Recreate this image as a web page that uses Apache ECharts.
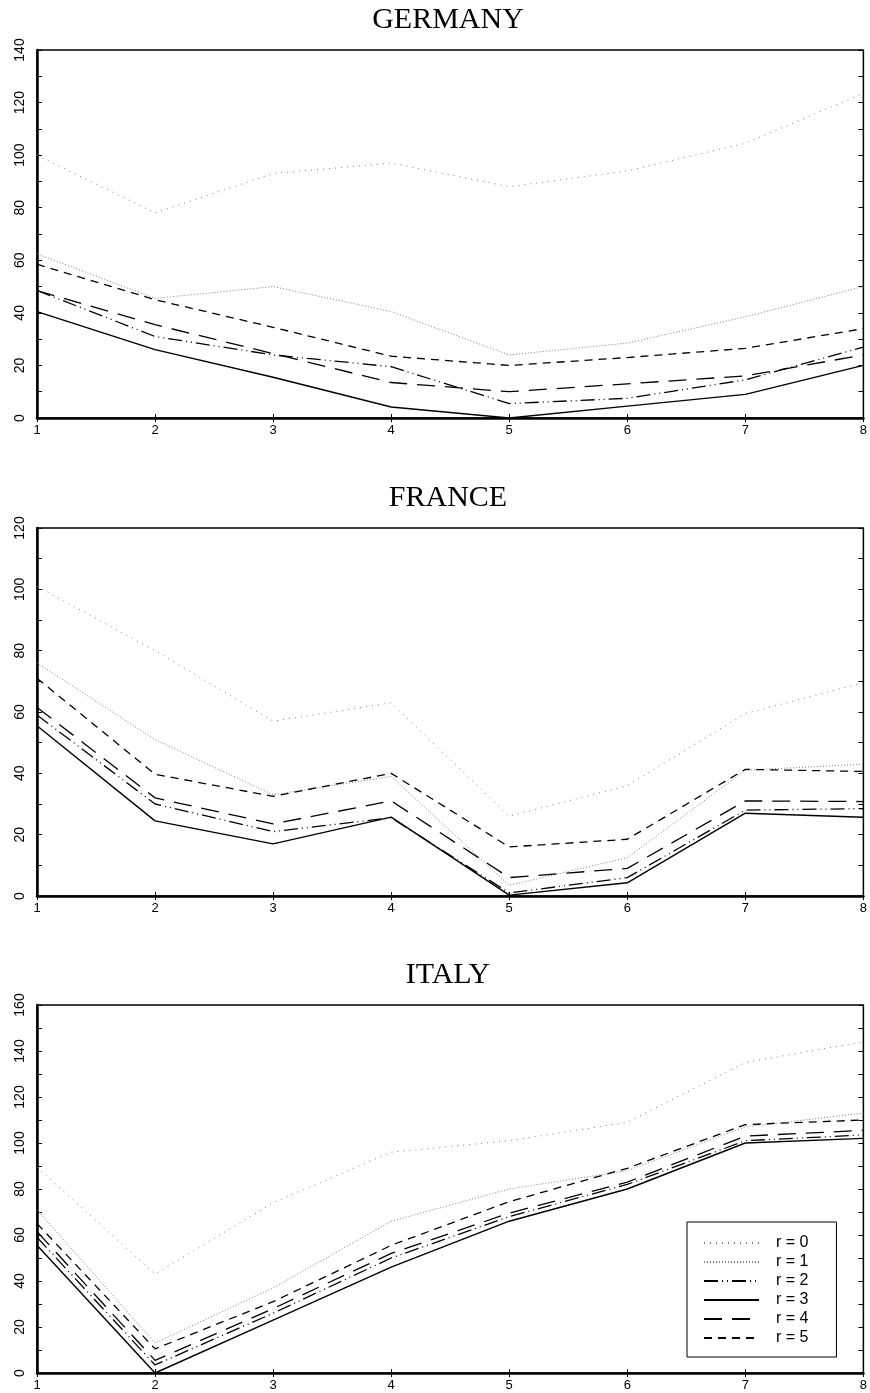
<!DOCTYPE html>
<html>
<head>
<meta charset="utf-8">
<script src="https://cdn.jsdelivr.net/npm/echarts@6/dist/echarts.min.js"></script>
<style>
  html, body { margin: 0; padding: 0; background: #fff; }
  #chart { width: 870px; height: 1393px; }
</style>
</head>
<body>
<div id="chart"></div>
<script>
const xValues = [1, 2, 3, 4, 5, 6, 7, 8];
const seriesNames = ['r = 0', 'r = 1', 'r = 2', 'r = 3', 'r = 4', 'r = 5'];
const panelTitles = ['GERMANY', 'FRANCE', 'ITALY'];
const yMaxes = [140, 120, 160];

// Germany
const deR0 = [100, 78, 93, 97, 88, 94, 104.5, 123.5];
const deR1 = [62.5, 45.5, 50, 40.5, 24, 28.5, 38.5, 50];
const deR2 = [48.5, 31, 24, 19.5, 5.5, 7.5, 14.5, 27];
const deR3 = [40.5, 26, 15.5, 4.2, 0, 4.5, 9, 20];
const deR4 = [48.5, 35.5, 24.5, 13.5, 10, 13, 16, 24];
const deR5 = [58.5, 45, 34.5, 23.5, 20, 23, 26.5, 34];

// France
const frR0 = [101, 80, 57, 63, 26, 36, 59.5, 69.5];
const frR1 = [76, 51, 33, 39, 3.5, 12.5, 41, 43];
const frR2 = [59, 30, 21, 25.5, 1, 6, 28, 28.5];
const frR3 = [55.5, 24.5, 17, 25.7, 0.3, 4.3, 27, 25.7];
const frR4 = [61.5, 32, 23.5, 31, 6, 9, 31, 30.8];
const frR5 = [71, 39.7, 32.5, 40, 16, 18.5, 41.3, 40.6];

// Italy
const itR0 = [89.5, 43, 74, 96, 101, 109, 135, 144];
const itR1 = [71, 13, 37, 66, 80, 88, 107, 113];
const itR2 = [59, 3.5, 26, 50, 68, 82, 101, 103.5];
const itR3 = [55.5, 0, 23, 46, 66, 80, 100, 102];
const itR4 = [61.5, 5.5, 28, 52, 69.5, 83, 103, 105.5];
const itR5 = [65, 10.5, 31, 55.5, 74.5, 89, 108, 110];

const panels = [
  [deR0, deR1, deR2, deR3, deR4, deR5],
  [frR0, frR1, frR2, frR3, frR4, frR5],
  [itR0, itR1, itR2, itR3, itR4, itR5]
];

// line looks for r = 0 ... 5
const lineLooks = [
  { color: '#808080', width: 1, type: [1, 5] },
  { color: '#808080', width: 1, type: [1, 2] },
  { color: '#000', width: 1.3, type: [14, 4, 1, 4, 1, 4] },
  { color: '#000', width: 1.4, type: 'solid' },
  { color: '#000', width: 1.3, type: [18, 10] },
  { color: '#000', width: 1.3, type: [8, 6] }
];

const gridTops = [50, 528, 1005];
const titleTops = [0, 478, 955];
const labelFont = 'Liberation Sans';
const tickFont = '"Liberation Sans Narrow", "Liberation Sans"';

let grid = [], xAxis = [], yAxis = [], title = [], series = [];

panels.forEach((rows, p) => {
  grid.push({
    left: 37, right: 5, top: gridTops[p], height: 368,
    show: true, borderColor: '#000', borderWidth: 1.5
  });
  title.push({
    text: panelTitles[p], left: 443, top: titleTops[p], textAlign: 'center',
    textStyle: { fontFamily: 'Liberation Serif', fontSize: 30, fontWeight: 'normal', color: '#000' }
  });
  // bottom + top x axes
  xAxis.push({
    type: 'value', gridIndex: p, min: 1, max: 8, interval: 1, position: 'bottom',
    axisLine: { show: true, lineStyle: { color: '#000', width: 2.5 } },
    axisTick: { inside: true, length: 4, lineStyle: { color: '#000' } },
    axisLabel: { color: '#000', fontSize: 13, fontFamily: labelFont, margin: 6 },
    splitLine: { show: false }
  });
  xAxis.push({
    type: 'value', gridIndex: p, min: 1, max: 8, interval: 1, position: 'top',
    axisLine: { show: false },
    axisTick: { inside: true, length: 4, lineStyle: { color: '#000' } },
    axisLabel: { show: false },
    splitLine: { show: false }
  });
  // left + right y axes
  yAxis.push({
    type: 'value', gridIndex: p, min: 0, max: yMaxes[p], interval: 10, position: 'left',
    axisLine: { show: true, lineStyle: { color: '#000', width: 2.5 } },
    axisTick: { inside: true, length: 5, lineStyle: { color: '#000' } },
    axisLabel: {
      color: '#000', fontSize: 14, fontFamily: tickFont, rotate: 90, margin: 10,
      formatter: v => (v % 20 === 0 ? String(v) : '')
    },
    splitLine: { show: false }
  });
  yAxis.push({
    type: 'value', gridIndex: p, min: 0, max: yMaxes[p], interval: 10, position: 'right',
    axisLine: { show: false },
    axisTick: { inside: true, length: 5, lineStyle: { color: '#000' } },
    axisLabel: { show: false },
    splitLine: { show: false }
  });
  rows.forEach((vals, i) => {
    series.push({
      name: seriesNames[i],
      type: 'line',
      xAxisIndex: p * 2,
      yAxisIndex: p * 2,
      symbol: 'none',
      silent: true,
      animation: false,
      lineStyle: lineLooks[i],
      itemStyle: { color: lineLooks[i].color },
      data: xValues.map((x, k) => [x, vals[k]])
    });
  });
});

const option = {
  backgroundColor: '#fff',
  animation: false,
  title: title,
  grid: grid,
  xAxis: xAxis,
  yAxis: yAxis,
  legend: {
    data: seriesNames,
    orient: 'vertical',
    left: 687,
    top: 1222,
    padding: [13, 28, 11, 16],
    itemWidth: 55,
    itemHeight: 10,
    itemGap: 3,
    borderColor: '#000',
    borderWidth: 1,
    backgroundColor: '#fff',
    // hide the round marker, keep only the line sample
    itemStyle: { color: 'transparent', borderColor: 'transparent', opacity: 0 },
    textStyle: { color: '#000', fontSize: 16, fontFamily: labelFont, padding: [0, 0, 0, 12] }
  },
  series: series
};

let chartInstance = echarts.init(document.getElementById('chart'), null, { renderer: 'canvas' });
chartInstance.setOption(option);
</script>
</body>
</html>
